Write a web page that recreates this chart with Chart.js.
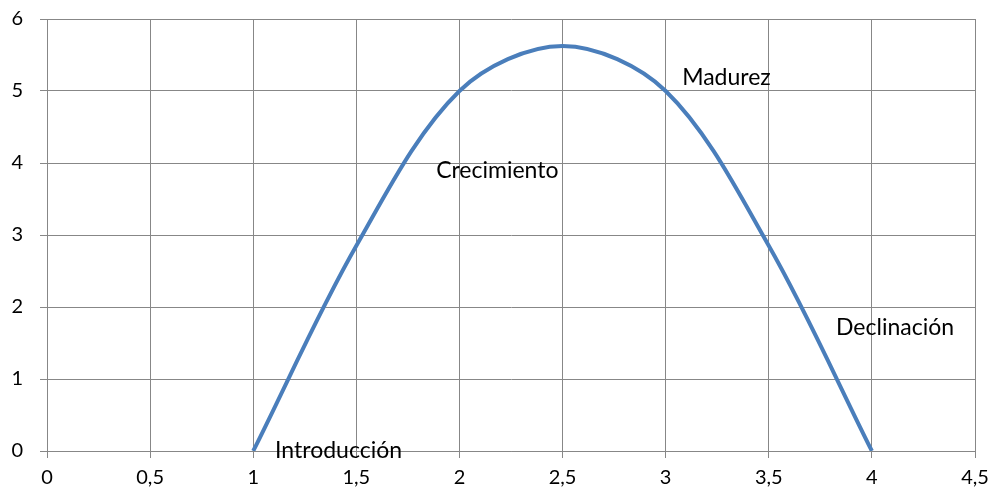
<!DOCTYPE html>
<html>
<head>
<meta charset="utf-8">
<script src="https://cdn.jsdelivr.net/npm/chart.js@4"></script>
<style>
  html, body { margin: 0; padding: 0; background: #fff; }
  #wrap { width: 992px; height: 498px; }
</style>
</head>
<body>
<div id="wrap"><canvas id="ciclo" width="992" height="498"></canvas></div>
<script>
// puntos de la curva
const xValues = [1, 1.5, 2, 2.5, 3, 3.5, 4];
const yValues = [0, 2.85, 5, 5.625, 5, 2.85, 0];

// etiquetas de las etapas y su posicion en unidades de datos
const stageNames = ['Introducción', 'Crecimiento', 'Madurez', 'Declinación'];
const stageX = [1.106, 1.887, 3.08, 3.826];
const stageY = [0, 3.9, 5.19, 1.72];

const fontFamily = 'Lato, "Open Sans", sans-serif';
const gridColor = '#878787';

const stageLabels = {
  id: 'stageLabels',
  afterDatasetsDraw(chart) {
    const ctx = chart.ctx;
    const xs = chart.scales.x, ys = chart.scales.y;
    ctx.save();
    ctx.font = '23px ' + fontFamily;
    ctx.fillStyle = '#000';
    ctx.textAlign = 'left';
    ctx.textBaseline = 'middle';
    stageNames.forEach((name, i) => {
      ctx.fillText(name, xs.getPixelForValue(stageX[i]), ys.getPixelForValue(stageY[i]));
    });
    ctx.restore();
  }
};

const points = xValues.map((x, i) => ({ x: x, y: yValues[i] }));

new Chart(document.getElementById('ciclo').getContext('2d'), {
  type: 'scatter',
  data: {
    datasets: [{
      data: points,
      showLine: true,
      borderColor: '#4a7ebb',
      borderWidth: 4,
      pointRadius: 0,
      tension: 0.33,
      fill: false
    }]
  },
  options: {
    responsive: false,
    animation: false,
    layout: { padding: { top: 19, right: 17, left: 0, bottom: 0 } },
    plugins: { legend: { display: false }, tooltip: { enabled: false } },
    scales: {
      x: {
        type: 'linear',
        min: 0, max: 4.5,
        ticks: {
          stepSize: 0.5,
          color: '#000',
          padding: 8,
          font: { family: fontFamily, size: 20 },
          callback: v => String(v).replace('.', ',')
        },
        grid: { color: gridColor, lineWidth: 1, tickLength: 7 },
        border: { color: gridColor, width: 1 },
        afterFit(scale) {
          scale.height = 47;
          scale.paddingLeft = 0;
          scale.paddingRight = 0;
        }
      },
      y: {
        min: 0, max: 6,
        ticks: {
          stepSize: 1,
          color: '#000',
          padding: 17,
          font: { family: fontFamily, size: 20 }
        },
        grid: { color: gridColor, lineWidth: 1, tickLength: 7 },
        border: { color: gridColor, width: 1 },
        afterFit(scale) {
          scale.width = 47;
          scale.paddingTop = 0;
          scale.paddingBottom = 0;
        }
      }
    }
  },
  plugins: [stageLabels]
});
</script>
</body>
</html>
